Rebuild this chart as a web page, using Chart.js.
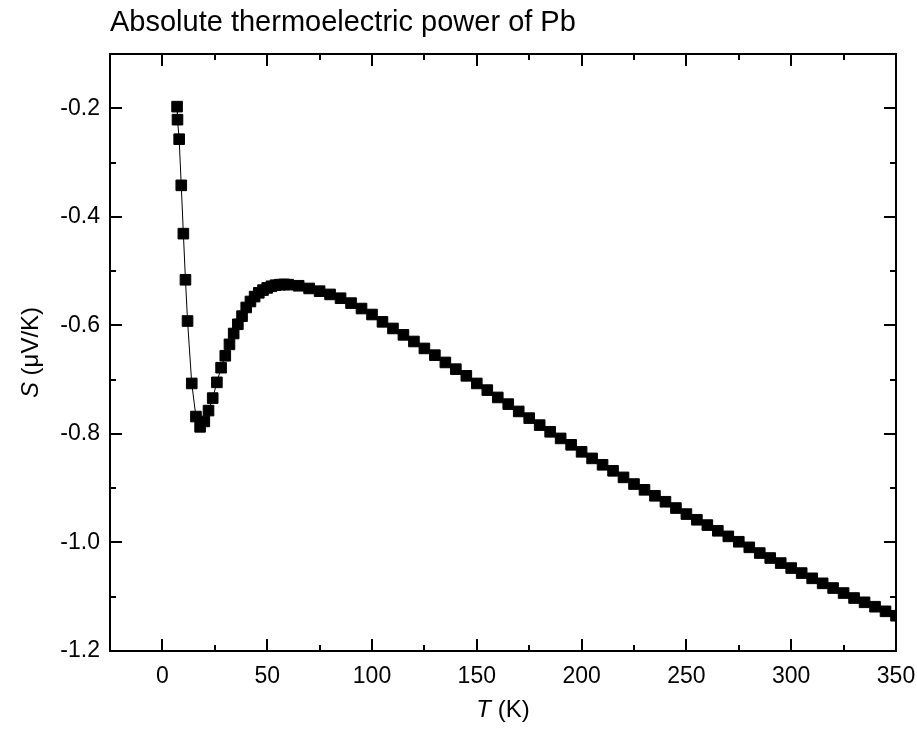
<!DOCTYPE html>
<html>
<head>
<meta charset="utf-8">
<script src="https://cdn.jsdelivr.net/npm/chart.js@4"></script>
<style>
html,body{margin:0;padding:0;background:#fff;}
#wrap{width:917px;height:737px;position:relative;}
</style>
</head>
<body>
<div id="wrap"><canvas id="c"></canvas></div>
<script>
const chartTitle = "Absolute thermoelectric power of Pb";
const xTitleItalic = "T";
const xTitleRest = " (K)";
const yTitleItalic = "S";
const yTitleRest = " (\u03BCV/K)";

const temperatures = [7, 7.2, 8, 9, 10, 11, 12, 14, 16, 18, 20, 22, 24, 26, 28, 30, 32, 34, 36, 38, 40,
  42, 44, 46, 48, 50, 52, 54, 56, 58, 60, 65, 70, 75, 80, 85, 90, 95, 100,
  105, 110, 115, 120, 125, 130, 135, 140, 145, 150, 155, 160, 165, 170, 175, 180, 185, 190, 195, 200,
  205, 210, 215, 220, 225, 230, 235, 240, 245, 250, 255, 260, 265, 270, 275, 280, 285, 290, 295, 300,
  305, 310, 315, 320, 325, 330, 335, 340, 345, 350];
const thermopower = [-0.197, -0.221, -0.257, -0.342, -0.431, -0.516, -0.592, -0.707, -0.768, -0.787, -0.777,
  -0.757, -0.734, -0.705, -0.678, -0.656, -0.635, -0.615, -0.598, -0.583, -0.567,
  -0.556, -0.547, -0.540, -0.535, -0.531, -0.528, -0.526, -0.525, -0.5245, -0.525,
  -0.527, -0.532, -0.537, -0.543, -0.550, -0.559, -0.569, -0.580,
  -0.5935, -0.6057, -0.6175, -0.6297, -0.6425, -0.6549, -0.6683, -0.6807, -0.693, -0.707,
  -0.7193, -0.7328, -0.7451, -0.7586, -0.7709, -0.7838, -0.7961, -0.8083, -0.8201, -0.833,
  -0.8451, -0.8569, -0.868, -0.8801, -0.8924, -0.903, -0.914, -0.925, -0.9366, -0.9477,
  -0.9582, -0.968, -0.9785, -0.9888, -0.9987, -1.009, -1.0195, -1.0287, -1.038, -1.0472,
  -1.0564, -1.0661, -1.0753, -1.084, -1.0932, -1.1024, -1.1103, -1.1184, -1.1269, -1.135];

const xTickValues = [0, 50, 100, 150, 200, 250, 300, 350];
const xMinorTickValues = [25, 75, 125, 175, 225, 275, 325];
const yTickValues = [-1.2, -1.0, -0.8, -0.6, -0.4, -0.2];
const yMinorTickValues = [-1.1, -0.9, -0.7, -0.5, -0.3, -0.1];
const xRange = [-25, 350];
const yRange = [-1.2, -0.1];

const FONT = '"Liberation Sans", Arial, Helvetica, sans-serif';

const points = temperatures.map((t, i) => ({x: t, y: thermopower[i]}));

const framePlugin = {
  id: 'framePlugin',
  afterDatasetsDraw(chart) {
    const {ctx, chartArea: a, scales} = chart;
    const xs = scales.x, ys = scales.y;
    ctx.save();
    ctx.strokeStyle = '#000';
    ctx.lineWidth = 2;
    ctx.strokeRect(a.left, a.top, a.right - a.left, a.bottom - a.top);
    ctx.beginPath();
    const xt = (vals, len) => vals.forEach(v => {
      const p = Math.round(xs.getPixelForValue(v));
      ctx.moveTo(p, a.bottom); ctx.lineTo(p, a.bottom - len);
      ctx.moveTo(p, a.top); ctx.lineTo(p, a.top + len);
    });
    const yt = (vals, len) => vals.forEach(v => {
      const p = Math.round(ys.getPixelForValue(v));
      ctx.moveTo(a.left, p); ctx.lineTo(a.left + len, p);
      ctx.moveTo(a.right, p); ctx.lineTo(a.right - len, p);
    });
    xt(xTickValues, 12); xt(xMinorTickValues, 6);
    yt(yTickValues, 12); yt(yMinorTickValues, 6);
    ctx.stroke();
    ctx.restore();
  },
  afterDraw(chart) {
    const {ctx, chartArea: a} = chart;
    ctx.save();
    ctx.fillStyle = '#000';
    ctx.textBaseline = 'alphabetic';
    ctx.textAlign = 'left';
    ctx.font = '29px ' + FONT;
    ctx.fillText(chartTitle, a.left, 31);

    const drawMixed = (it, rest, cx, cy) => {
      ctx.font = 'italic 24px ' + FONT;
      const w1 = ctx.measureText(it).width;
      ctx.font = '24px ' + FONT;
      const w2 = ctx.measureText(rest).width;
      const x0 = cx - (w1 + w2) / 2;
      ctx.font = 'italic 24px ' + FONT;
      ctx.fillText(it, x0, cy);
      ctx.font = '24px ' + FONT;
      ctx.fillText(rest, x0 + w1, cy);
    };
    const cx = (a.left + a.right) / 2;
    drawMixed(xTitleItalic, xTitleRest, cx, 717);
    ctx.save();
    ctx.translate(38, (a.top + a.bottom) / 2);
    ctx.rotate(-Math.PI / 2);
    drawMixed(yTitleItalic, yTitleRest, 0, 0);
    ctx.restore();
    ctx.restore();
  }
};

new Chart(document.getElementById('c'), {
  type: 'line',
  data: {
    datasets: [{
      data: points,
      borderColor: '#000',
      borderWidth: 1,
      backgroundColor: '#000',
      pointStyle: 'rect',
      pointRadius: 7.5,
      pointHoverRadius: 7.5,
      pointBorderWidth: 1,
      pointBackgroundColor: '#000',
      pointBorderColor: '#000',
      tension: 0,
      fill: false
    }]
  },
  options: {
    responsive: true,
    maintainAspectRatio: false,
    animation: false,
    events: [],
    layout: {padding: {left: 0, right: 21, top: 54, bottom: 0}},
    plugins: {legend: {display: false}, tooltip: {enabled: false}, title: {display: false}},
    scales: {
      x: {
        type: 'linear',
        min: xRange[0], max: xRange[1],
        grid: {display: false, drawTicks: false},
        border: {display: false},
        afterBuildTicks: s => { s.ticks = xTickValues.map(v => ({value: v})); },
        afterFit: s => { s.height = 86; s.paddingLeft = 0; s.paddingRight = 0; },
        ticks: {color: '#000', font: {family: FONT, size: 23}, padding: 12, maxRotation: 0,
          callback: v => String(v)}
      },
      y: {
        type: 'linear',
        min: yRange[0], max: yRange[1],
        grid: {display: false, drawTicks: false},
        border: {display: false},
        afterBuildTicks: s => { s.ticks = yTickValues.map(v => ({value: v})); },
        afterFit: s => { s.width = 110; s.paddingTop = 0; s.paddingBottom = 0; },
        ticks: {color: '#000', font: {family: FONT, size: 23}, padding: 10,
          callback: v => Number(v).toFixed(1)}
      }
    }
  },
  plugins: [framePlugin]
});
</script>
</body>
</html>
